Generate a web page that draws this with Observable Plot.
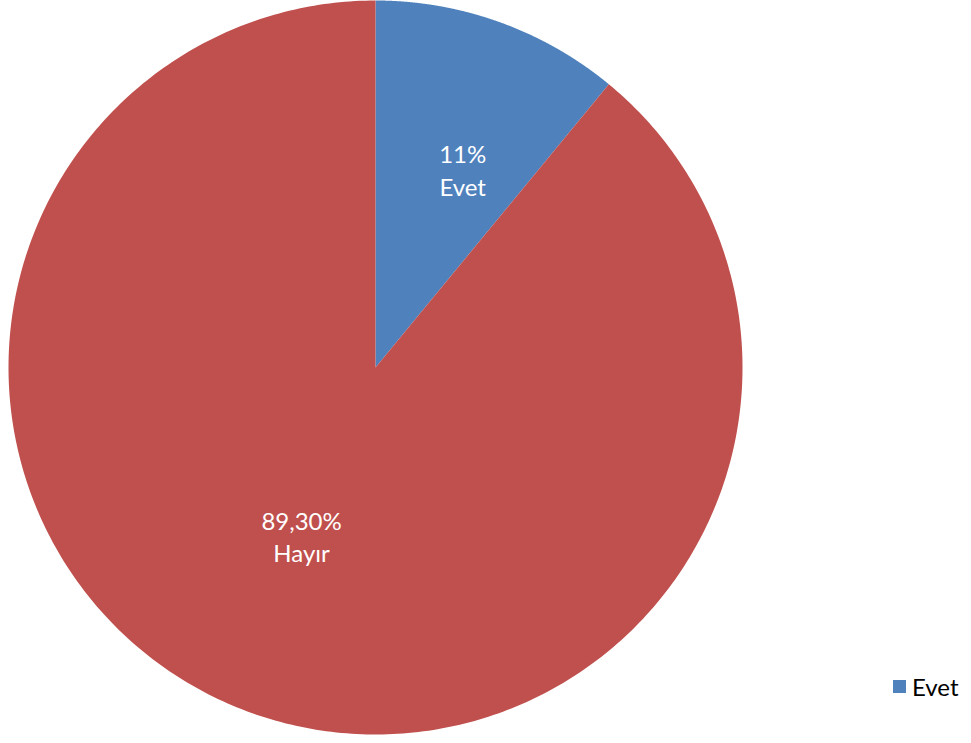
<!DOCTYPE html>
<html>
<head>
<meta charset="utf-8">
<script src="https://cdn.jsdelivr.net/npm/d3@7"></script>
<script src="https://cdn.jsdelivr.net/npm/@observablehq/plot@0.6"></script>
<style>
  html, body { margin: 0; padding: 0; background: #fff; }
  #wrap { position: relative; width: 971px; height: 743px; }
  #legend { position: absolute; left: 893px; top: 672px; font-family: Lato, "Open Sans", sans-serif; font-size: 24px; color: #000; display: flex; align-items: center; }
  #legend .sw { width: 13px; height: 13px; margin-right: 6px; }
</style>
</head>
<body>
<div id="wrap">
  <div id="chart"></div>
  <div id="legend"></div>
</div>
<script>
const categories = ["Evet", "Hayır"];
const values = [11, 89.3];
const valueLabels = ["11%", "89,30%"];
const colors = ["#4F81BD", "#C0504D"];
const legendItems = ["Evet"];

const pie = d3.pie().sort(null).value(d => d.value)(categories.map((c, i) => ({cat: c, value: values[i], label: valueLabels[i]})));

// Build slice outlines (unit circle coordinates) from the pie angles
const slicePts = [];
for (const s of pie) {
  slicePts.push({cat: s.data.cat, x: 0, y: 0});
  const n = 400;
  for (let k = 0; k <= n; k++) {
    const a = s.startAngle + (s.endAngle - s.startAngle) * k / n;
    slicePts.push({cat: s.data.cat, x: Math.sin(a), y: Math.cos(a)});
  }
  slicePts.push({cat: s.data.cat, x: 0, y: 0});
}
const labelR = [0.59, 0.5];
const labelShift = 0.07;
const labels = pie.map((s, i) => {
  const a = (s.startAngle + s.endAngle) / 2 + labelShift;
  return {text: s.data.label + "\n" + s.data.cat, x: labelR[i] * Math.sin(a), y: labelR[i] * Math.cos(a)};
});

const chart = Plot.plot({
  width: 971,
  height: 743,
  margin: 0,
  x: {domain: [-1, 1], range: [8, 742], axis: null},
  y: {domain: [-1, 1], range: [734, 0], axis: null},
  color: {domain: categories, range: colors},
  style: {fontFamily: "Lato, 'Open Sans', sans-serif", background: "#fff"},
  marks: [
    Plot.line(slicePts, {x: "x", y: "y", z: "cat", fill: "cat", stroke: null, curve: "linear"}),
    Plot.text(labels, {x: "x", y: "y", text: "text", fill: "white", fontSize: 24, lineHeight: 1.35})
  ]
});
document.getElementById("chart").appendChild(chart);

const lg = document.getElementById("legend");
legendItems.forEach(c => {
  const sw = document.createElement("span");
  sw.className = "sw";
  sw.style.background = colors[categories.indexOf(c)];
  lg.appendChild(sw);
  const t = document.createElement("span");
  t.textContent = c;
  lg.appendChild(t);
});
</script>
</body>
</html>
